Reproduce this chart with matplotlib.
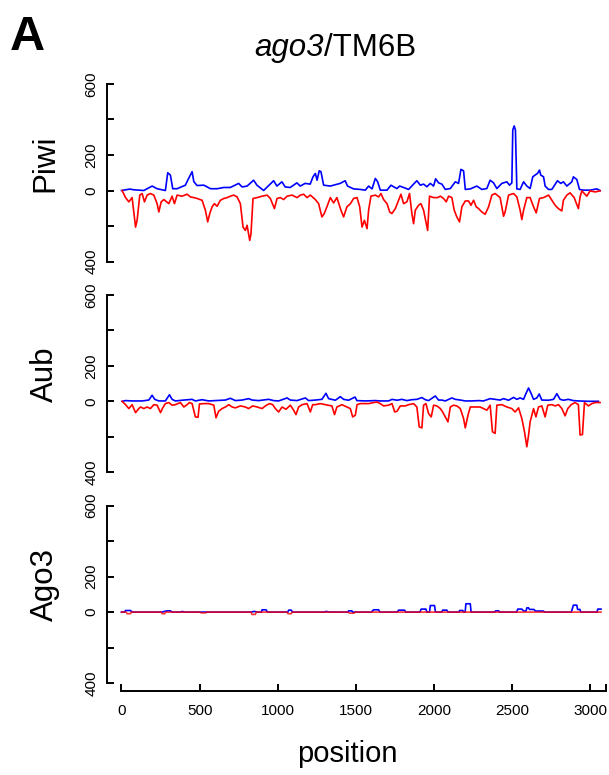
import matplotlib
matplotlib.use('Agg')
import matplotlib.pyplot as plt

plt.rcParams['font.family'] = ['Liberation Sans', 'DejaVu Sans']

# ---- data (position, coverage) ----
piwi_sense_pos = [0, 53, 79, 143, 196, 228, 281, 296, 313, 328, 356, 409, 424, 452, 463, 484, 527, 570,
                  612, 655, 697, 750, 772, 804, 846, 867, 910, 974, 995, 1027, 1048, 1080, 1123, 1144,
                  1176, 1208, 1226, 1241, 1252, 1266, 1277, 1294, 1337, 1400, 1432, 1447, 1486, 1529,
                  1561, 1582, 1604, 1625, 1640, 1657, 1700, 1725, 1742, 1763, 1781, 1806, 1838, 1870,
                  1891, 1913, 1934, 1955, 1977, 1998, 2011, 2030, 2051, 2073, 2105, 2137, 2158, 2173,
                  2190, 2201, 2233, 2275, 2307, 2339, 2360, 2382, 2403, 2435, 2467, 2484, 2499, 2505,
                  2514, 2522, 2531, 2552, 2574, 2595, 2616, 2633, 2648, 2663, 2676, 2684, 2702, 2712,
                  2734, 2755, 2791, 2812, 2829, 2851, 2883, 2893, 2915, 2932, 2957, 3000, 3043, 3064]
piwi_sense = [0, 8, 4, 0, 25, 10, 0, 100, 87, 10, 10, 30, 58, 106, 50, 28, 30, 10,
              10, 17, 17, 40, 20, 25, 58, 30, 0, 55, 25, 49, 20, 17, 43, 25,
              40, 36, 77, 96, 58, 111, 106, 30, 25, 40, 55, 25, 9, 6,
              2, 25, 9, 68, 49, 2, 2, 30, 21, 11, 25, 17, 6, 36,
              55, 30, 36, 21, 40, 25, 66, 43, 36, 6, 11, 49, 40, 119,
              111, 6, 9, 25, 6, 11, 58, 43, 11, 40, 49, 30, 43, 341,
              364, 341, 9, 6, 49, 25, 11, 77, 87, 96, 115, 87, 77, 25,
              6, 6, 55, 40, 49, 25, 49, 77, 62, 6, 2, 2, 9, 0]

piwi_anti_pos = [4, 26, 47, 68, 90, 100, 117, 132, 147, 164, 185, 207, 228, 239, 254, 271, 303, 324,
                 339, 356, 388, 420, 441, 463, 484, 516, 537, 552, 565, 580, 595, 612, 633, 655, 676,
                 697, 719, 740, 761, 778, 793, 804, 821, 829, 842, 868, 900, 932, 953, 979, 996, 1017,
                 1038, 1060, 1092, 1124, 1145, 1166, 1188, 1209, 1241, 1262, 1283, 1298, 1315, 1337,
                 1358, 1379, 1405, 1422, 1443, 1465, 1486, 1508, 1525, 1540, 1555, 1572, 1582, 1597,
                 1625, 1646, 1661, 1678, 1700, 1717, 1731, 1753, 1774, 1789, 1806, 1827, 1844, 1859,
                 1870, 1881, 1902, 1917, 1934, 1951, 1960, 1972, 1998, 2024, 2041, 2062, 2079, 2094,
                 2115, 2130, 2147, 2164, 2179, 2201, 2222, 2237, 2254, 2271, 2286, 2307, 2328, 2350,
                 2371, 2392, 2424, 2446, 2456, 2478, 2510, 2531, 2552, 2563, 2574, 2595, 2616, 2638,
                 2655, 2676, 2702, 2734, 2755, 2776, 2797, 2819, 2829, 2851, 2872, 2898, 2925, 2936,
                 2947, 2979, 3000, 3032, 3064]
piwi_anti = [0, -40, -64, -40, -206, -168, -26, -17, -64, -26, -17, -26, -74, -121, -64, -51, -74, -32,
             -74, -26, -32, -21, -36, -40, -45, -55, -111, -177, -130, -92, -74, -89, -55, -45, -40,
             -32, -26, -36, -74, -206, -225, -196, -281, -243, -45, -40, -32, -26, -45, -102, -45, -40,
             -51, -32, -26, -40, -26, -21, -40, -26, -51, -74, -149, -130, -92, -40,
             -70, -40, -111, -149, -92, -75, -45, -40, -92, -206, -168, -215, -111, -32,
             -26, -36, -17, -51, -74, -121, -130, -102, -55, -21, -74, -64, -17, -130,
             -187, -111, -83, -74, -111, -187, -225, -32, -40, -40, -32, -45, -64, -32,
             -40, -111, -149, -177, -92, -59, -59, -83, -55, -92, -102, -121, -134, -92,
             -26, -17, -40, -145, -121, -26, -17, -36, -111, -164, -111, -40, -40, -92,
             -126, -45, -40, -26, -55, -83, -102, -115, -55, -26, -13, -40, -102, -36,
             -2, -32, -2, -8, -2]

aub_sense_pos = [4, 26, 68, 132, 175, 196, 213, 239, 281, 307, 324, 345, 388, 452, 473, 516, 559, 601,
                 665, 697, 729, 772, 814, 836, 878, 942, 974, 1006, 1060, 1081, 1124, 1177, 1198, 1241,
                 1283, 1309, 1326, 1369, 1401, 1422, 1454, 1495, 1507, 1561, 1625, 1657, 1710, 1732,
                 1764, 1795, 1827, 1859, 1891, 1923, 1945, 1966, 2009, 2030, 2051, 2073, 2115, 2137,
                 2169, 2201, 2243, 2286, 2318, 2360, 2392, 2424, 2446, 2478, 2510, 2531, 2552, 2574,
                 2589, 2606, 2623, 2638, 2659, 2674, 2691, 2734, 2766, 2787, 2808, 2830, 2861, 2893,
                 2925, 2989, 3053]
aub_sense = [0, 4, 2, 2, 7, 34, 11, 2, 2, 37, 11, 2, 6, 11, 2, 9, 2, 4,
             7, 17, 4, 7, 15, 7, 4, 11, 4, 2, 19, 7, 4, 19, 4, 7,
             11, 45, 15, 6, 26, 11, 6, 24, 4, 2, 4, 2, 2, 11,
             6, 11, 4, 9, 11, 21, 9, 4, 30, 7, 7, 2, 19, 11,
             7, 2, 2, 4, 2, 15, 11, 7, 15, 6, 22, 11, 19, 11,
             43, 75, 43, 11, 19, 41, 7, 6, 11, 43, 11, 6, 11, 4,
             2, 0, 0]

aub_anti_pos = [4, 26, 47, 68, 90, 111, 122, 143, 164, 185, 207, 228, 250, 264, 281, 303, 324, 345,
                377, 399, 420, 435, 452, 473, 490, 499, 527, 559, 591, 605, 622, 644, 665, 687, 708,
                729, 761, 793, 814, 840, 868, 900, 921, 947, 968, 985, 1006, 1028, 1053, 1081, 1102,
                1117, 1134, 1156, 1188, 1209, 1224, 1241, 1273, 1305, 1347, 1364, 1379, 1411, 1443,
                1465, 1480, 1497, 1508, 1529, 1582, 1614, 1636, 1657, 1678, 1710, 1732, 1749, 1764,
                1785, 1817, 1838, 1870, 1891, 1906, 1923, 1934, 1949, 1966, 1983, 1998, 2019, 2041,
                2056, 2073, 2090, 2105, 2126, 2147, 2169, 2190, 2201, 2218, 2233, 2264, 2296, 2318,
                2339, 2360, 2375, 2392, 2403, 2435, 2467, 2499, 2520, 2542, 2563, 2580, 2595, 2606,
                2616, 2638, 2653, 2670, 2691, 2712, 2729, 2755, 2776, 2798, 2819, 2840, 2857, 2879,
                2904, 2925, 2936, 2951, 2964, 2989, 3011, 3032, 3064]
aub_anti = [0, -19, -41, -19, -64, -41, -32, -41, -32, -41, -19, -22, -64, -37, -13, -7, -22, -19,
            -7, -32, -19, -7, -13, -88, -90, -15, -13, -13, -22, -93, -56, -41, -32, -19, -32,
            -37, -26, -32, -41, -26, -32, -41, -26, -13, -19, -41, -60, -32, -45, -22, -50,
            -75, -32, -19, -13, -60, -19, -19, -13, -19, -26, -75, -32, -19, -32,
            -41, -88, -78, -19, -13, -13, -7, -4, -13, -26, -22, -13, -60, -56,
            -26, -26, -19, -13, -32, -144, -150, -22, -13, -69, -88, -22, -26, -41,
            -60, -88, -116, -32, -22, -26, -41, -97, -150, -79, -32, -32, -32, -41,
            -50, -22, -172, -181, -22, -19, -32, -41, -60, -37, -97, -172, -256, -191,
            -116, -41, -88, -32, -26, -88, -22, -19, -26, -19, -41, -82, -41, -19,
            -7, -19, -190, -187, -7, -26, -13, -7, -7]

ago3_sense_pos = [0, 20, 26, 57, 70, 260, 270, 292, 313, 325, 380, 390, 400, 830, 850, 870, 895, 900,
                  925, 935, 1065, 1070, 1087, 1095, 1300, 1310, 1330, 1450, 1454, 1475, 1480, 1600,
                  1614, 1646, 1655, 1765, 1774, 1812, 1820, 1910, 1919, 1949, 1955, 1972, 1977, 2004,
                  2010, 2050, 2056, 2083, 2090, 2160, 2165, 2185, 2190, 2200, 2205, 2233, 2238, 2390,
                  2395, 2415, 2420, 2530, 2537, 2563, 2575, 2590, 2595, 2606, 2612, 2640, 2650, 2700,
                  2710, 2880, 2893, 2915, 2920, 2935, 2940, 3045, 3049, 3070]
ago3_sense = [0, 0, 9, 9, 0, 0, 3, 7, 7, 0, 0, 4, 0, 0, 4, 0, 0, 13,
              13, 0, 0, 11, 11, 0, 0, 4, 0, 0, 7, 7, 0, 0,
              13, 13, 0, 0, 11, 11, 0, 0, 17, 17, 0, 0, 37, 37,
              0, 0, 11, 11, 0, 0, 9, 9, 0, 0, 47, 47, 0, 0,
              7, 7, 0, 0, 17, 17, 6, 6, 24, 24, 15, 15, 6, 6,
              0, 0, 39, 39, 15, 15, 0, 0, 17, 17]

ago3_anti_pos = [0, 30, 36, 57, 62, 255, 260, 277, 282, 500, 510, 540, 545, 830, 835, 857, 862, 1060,
                 1066, 1087, 1092, 1450, 1460, 1490, 1495, 3070]
ago3_anti = [0, 0, -9, -9, 0, 0, -9, -9, 0, 0, -4, -4, 0, 0, -13, -13, 0, 0,
             -9, -9, 0, 0, -6, -6, 0, 0]

panel_names = ['Piwi', 'Aub', 'Ago3']
sense_pos = [piwi_sense_pos, aub_sense_pos, ago3_sense_pos]
sense_vals = [piwi_sense, aub_sense, ago3_sense]
anti_pos = [piwi_anti_pos, aub_anti_pos, ago3_anti_pos]
anti_vals = [piwi_anti, aub_anti, ago3_anti]

y_ticks = [600, 400, 200, 0, -200, -400]
y_tick_labels = ['600', '', '200', '0', '', '400']
x_ticks = [0, 500, 1000, 1500, 2000, 2500, 3000, 3100]
x_tick_labels = ['0', '500', '1000', '1500', '2000', '2500', '3000', '']

# ---- layout in pixels ----
W, H = 609, 775
fig = plt.figure(figsize=(W / 100, H / 100), dpi=100)

k = 0.1775            # px per coverage unit
y600 = [84, 294.8, 505.6]
ax_left, ax_right = 106.5, 609

for i, name in enumerate(panel_names):
    top = y600[i] - 40 * k
    bottom = y600[i] + 1045 * k
    ax = fig.add_axes([ax_left / W, 1 - bottom / H, (ax_right - ax_left) / W, (bottom - top) / H])
    ax.plot(sense_pos[i], sense_vals[i], color='#0000ff', lw=1.2)
    # antisense drawn over sense; on the flat Ago3 track the overlap reads as crimson
    ax.plot(anti_pos[i], anti_vals[i], color='#ff0000', lw=1.2, alpha=0.8 if i == 2 else 1.0)
    ax.set_xlim(-96, 3121)
    ax.set_ylim(-445, 640)
    for s in ['top', 'right']:
        ax.spines[s].set_visible(False)
    ax.spines['left'].set_bounds(-400, 600)
    ax.spines['left'].set_linewidth(1.4)
    ax.set_yticks(y_ticks)
    ax.set_yticklabels(y_tick_labels, rotation=90, va='center')
    ax.tick_params(axis='y', direction='in', length=4.7, width=1.4, pad=6, labelsize=11)
    if i < 2:
        ax.spines['bottom'].set_visible(False)
        ax.set_xticks([])
    else:
        ax.spines['bottom'].set_bounds(0, 3100)
        ax.spines['bottom'].set_linewidth(1.4)
        ax.set_xticks(x_ticks)
        ax.set_xticklabels(x_tick_labels)
        ax.tick_params(axis='x', direction='in', length=4.7, width=1.4, pad=9.5, labelsize=11)
    ax.patch.set_alpha(0)
    fig.text(45 / W, 1 - (y600[i] + 79) / H, name, rotation=90, ha='center', va='center', fontsize=22.5)

# ---- titles ----
fig.text(10 / W, 1 - 50 / H, 'A', fontsize=35, fontweight='bold', ha='left', va='baseline')
fig.text(347 / W, 1 - 754 / H, 'position', fontsize=21, ha='center', va='center')

t1 = fig.text(0, 1 - 56 / H, 'ago3', fontsize=22.5, style='italic', va='baseline')
t2 = fig.text(0, 1 - 56 / H, '/TM6B', fontsize=22.5, va='baseline')
r = fig.canvas.get_renderer()
w1 = t1.get_window_extent(r).width
w2 = t2.get_window_extent(r).width
x0 = 335 - (w1 + w2) / 2
t1.set_x(x0 / W)
t2.set_x((x0 + w1) / W)

fig.savefig('out.png', dpi=100)
